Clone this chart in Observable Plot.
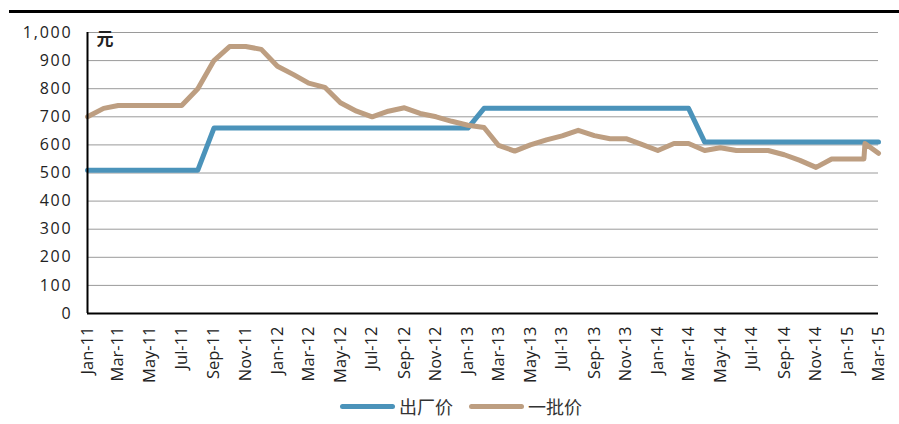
<!DOCTYPE html>
<html>
<head>
<meta charset="utf-8">
<script src="https://cdn.jsdelivr.net/npm/d3@7"></script>
<script src="https://cdn.jsdelivr.net/npm/@observablehq/plot@0.6"></script>
<style>
  html, body { margin: 0; padding: 0; background: #fff; }
  #wrap { position: relative; width: 899px; height: 424px; overflow: hidden; }
  #topbar { position: absolute; left: 9px; top: 10px; width: 890px; height: 3px; background: #000; }
  #chart { position: absolute; left: 0; top: 0; }
  #legend { position: absolute; left: 340px; top: 393px; display: flex; align-items: center;
            font-family: "Noto Sans CJK SC", sans-serif; font-size: 18px; color: #333; }
  .sw { width: 55px; height: 5px; border-radius: 3px; margin-right: 4px; }
  .item { display: flex; align-items: center; margin-right: 16px; }
</style>
</head>
<body>
<div id="wrap">
  <div id="chart"></div>
  <div id="topbar"></div>
  <div id="legend"></div>
</div>
<script>
// ---- data ----
const seriesNames = ["出厂价", "一批价"];
const seriesColors = ["#4b93ba", "#bd9e81"];
const unitLabel = "元";

const factoryMonths = [
  "2011-01","2011-02","2011-03","2011-04","2011-05","2011-06","2011-07","2011-08","2011-09","2011-10","2011-11","2011-12",
  "2012-01","2012-02","2012-03","2012-04","2012-05","2012-06","2012-07","2012-08","2012-09","2012-10","2012-11","2012-12",
  "2013-01","2013-02","2013-03","2013-04","2013-05","2013-06","2013-07","2013-08","2013-09","2013-10","2013-11","2013-12",
  "2014-01","2014-02","2014-03","2014-04","2014-05","2014-06","2014-07","2014-08","2014-09","2014-10","2014-11","2014-12",
  "2015-01","2015-02","2015-03"
];
const factoryPrice = [
  510,510,510,510,510,510,510,510,660,660,660,660,
  660,660,660,660,660,660,660,660,660,660,660,660,
  660,730,730,730,730,730,730,730,730,730,730,730,
  730,730,730,610,610,610,610,610,610,610,610,610,
  610,610,610
];

const wholesaleDates = [
  "2011-01","2011-02","2011-03","2011-04","2011-05","2011-06","2011-07","2011-08","2011-09","2011-10","2011-11","2011-12",
  "2012-01","2012-02","2012-03","2012-04","2012-05","2012-06","2012-07","2012-08","2012-09","2012-10","2012-11","2012-12",
  "2013-01","2013-02","2013-03","2013-04","2013-05","2013-06","2013-07","2013-08","2013-09","2013-10","2013-11","2013-12",
  "2014-01","2014-02","2014-03","2014-04","2014-05","2014-06","2014-07","2014-08","2014-09","2014-10","2014-11","2014-12",
  "2015-01","2015-02","2015-02-03","2015-03"
];
const wholesalePrice = [
  700,730,740,740,740,740,740,800,900,950,950,940,
  880,850,820,805,750,720,700,720,732,712,700,684,
  670,662,598,578,600,618,632,652,633,622,622,602,
  580,605,605,580,590,580,580,580,565,545,520,550,
  550,550,605,570
];

const yTicks = [0,100,200,300,400,500,600,700,800,900,1000];
const xStart = "2011-01";
const xEnd = "2015-03";

// ---- build ----
const parse = s => new Date(s.length === 7 ? s + "-01T00:00:00Z" : s + "T00:00:00Z");
const factory = factoryMonths.map((m, i) => ({date: parse(m), value: factoryPrice[i]}));
const wholesale = wholesaleDates.map((m, i) => ({date: parse(m), value: wholesalePrice[i]}));
const x0 = parse(xStart), x1 = parse(xEnd);
const xTicks = d3.utcMonth.every(2).range(x0, d3.utcDay.offset(x1, 1));

const font = "'Open Sans', sans-serif";

const chart = Plot.plot({
  width: 899,
  height: 385,
  marginLeft: 87,
  marginRight: 21,
  marginTop: 32,
  marginBottom: 72,
  style: {fontFamily: font, fontSize: "16px", color: "#222", background: "transparent"},
  x: {type: "utc", domain: [x0, x1]},
  y: {domain: [0, 1000]},
  marks: [
    Plot.ruleY(yTicks.filter(d => d > 0), {stroke: "#9a9a9a", strokeWidth: 1}),
    Plot.axisY({ticks: yTicks, tickFormat: d3.format(","), tickSize: 0, tickPadding: 15, label: null, fontSize: 16}),
    Plot.axisX({ticks: xTicks, tickFormat: d3.utcFormat("%b-%y"), tickRotate: -90, tickSize: 0, tickPadding: 13, label: null, fontSize: 16.5}),
    Plot.line(factory, {x: "date", y: "value", stroke: seriesColors[0], strokeWidth: 5, strokeLinejoin: "round", strokeLinecap: "round"}),
    Plot.line(wholesale, {x: "date", y: "value", stroke: seriesColors[1], strokeWidth: 5, strokeLinejoin: "round", strokeLinecap: "round"}),
    Plot.ruleX([x0], {stroke: "#000", strokeWidth: 2}),
    Plot.ruleY([0], {stroke: "#000", strokeWidth: 2}),
    Plot.text([unitLabel], {frameAnchor: "top-left", dx: 9, dy: 0, lineAnchor: "top", textAnchor: "start",
      fontFamily: "'Noto Sans CJK SC', sans-serif", fontSize: 17, fontWeight: "bold", fill: "#222"})
  ]
});
// wider letter spacing on y tick labels, as in the reference
d3.select(chart).selectAll("g").filter(function() {
  return (this.getAttribute("aria-label") || "") === "y-axis tick label";
}).style("letter-spacing", "1.8px");
document.getElementById("chart").appendChild(chart);

const legend = document.getElementById("legend");
seriesNames.forEach((name, i) => {
  const item = document.createElement("div");
  item.className = "item";
  const sw = document.createElement("div");
  sw.className = "sw";
  sw.style.background = seriesColors[i];
  const t = document.createElement("span");
  t.textContent = name;
  item.appendChild(sw);
  item.appendChild(t);
  legend.appendChild(item);
});
</script>
</body>
</html>
